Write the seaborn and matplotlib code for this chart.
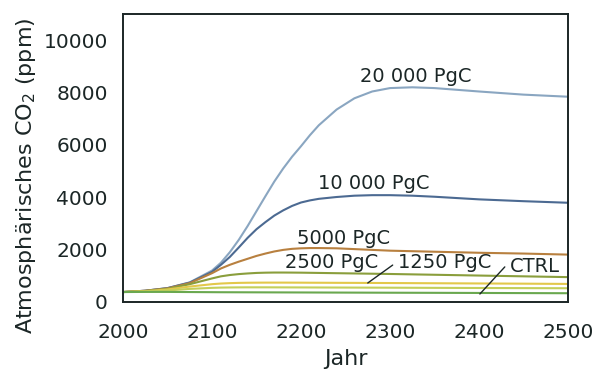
import matplotlib
matplotlib.use("Agg")
import matplotlib.pyplot as plt
import seaborn as sns
import pandas as pd

years = [2000, 2025, 2050, 2075, 2100, 2110, 2120, 2130, 2140, 2150, 2160, 2170,
         2180, 2190, 2200, 2210, 2220, 2240, 2260, 2280, 2300, 2325, 2350, 2400,
         2450, 2500]
co2_20000 = [380, 430, 530, 750, 1200, 1500, 1900, 2370, 2900, 3470, 4040, 4600,
             5100, 5550, 5950, 6370, 6750, 7350, 7780, 8040, 8170, 8200, 8170, 8040,
             7920, 7840]
co2_10000 = [380, 430, 530, 740, 1150, 1420, 1720, 2080, 2450, 2780, 3050, 3300,
             3500, 3670, 3800, 3880, 3940, 4010, 4060, 4080, 4080, 4060, 4020, 3920,
             3850, 3790]
co2_5000 = [380, 430, 520, 720, 1100, 1280, 1420, 1540, 1650, 1760, 1850, 1930,
            1990, 2030, 2050, 2060, 2060, 2050, 2020, 1990, 1960, 1940, 1920, 1880,
            1850, 1810]
co2_2500 = [380, 420, 500, 680, 900, 980, 1030, 1065, 1090, 1110, 1120, 1125,
            1125, 1123, 1120, 1115, 1110, 1100, 1090, 1080, 1070, 1055, 1040, 1010,
            980, 950]
co2_1250 = [380, 410, 480, 590, 680, 705, 720, 730, 735, 738, 740, 740,
            740, 739, 738, 736, 735, 732, 730, 727, 724, 720, 716, 708,
            700, 690]
co2_625 = [380, 400, 440, 500, 540, 550, 555, 558, 560, 560, 560, 559,
           558, 557, 556, 555, 554, 552, 550, 548, 546, 543, 540, 535,
           530, 525]
co2_ctrl = [380, 385, 385, 380, 375, 373, 372, 371, 370, 369, 368, 367,
            366, 365, 364, 363, 362, 360, 358, 356, 354, 352, 350, 345,
            340, 335]

series_names = ["20000", "10000", "5000", "2500", "1250", "625", "CTRL"]
series_values = [co2_20000, co2_10000, co2_5000, co2_2500, co2_1250, co2_625, co2_ctrl]
series_colors = ["#8aa6c1", "#4c6a92", "#b8803f", "#8a9e3c", "#e3c84a", "#c4cf5a", "#6aa84f"]

x_ticks = [2000, 2100, 2200, 2300, 2400, 2500]
y_ticks = [0, 2000, 4000, 6000, 8000, 10000]

labels = ["20 000 PgC", "10 000 PgC", "5000 PgC", "2500 PgC", "1250 PgC", "CTRL"]
label_pos = [(2266, 8630), (2219, 4540), (2196, 2440), (2182, 1490), (2309, 1490), (2435, 1370)]

rows = []
for name, vals in zip(series_names, series_values):
    for y, v in zip(years, vals):
        rows.append({"Jahr": y, "CO2": v, "Szenario": name})
df = pd.DataFrame(rows)

sns.set_style("white")
plt.rcParams["font.family"] = ["DejaVu Sans"]
txt = "#1b2626"

fig = plt.figure(figsize=(5.96, 3.70), dpi=100)
ax = fig.add_axes([0.2064, 0.1838, 0.7466, 0.7784])
sns.lineplot(data=df, x="Jahr", y="CO2", hue="Szenario", hue_order=series_names,
             palette=dict(zip(series_names, series_colors)), legend=False,
             linewidth=1.5, ax=ax)

ax.set_xlim(2000, 2500)
ax.set_ylim(0, 11000)
ax.set_xticks(x_ticks)
ax.set_yticks(y_ticks)
ax.tick_params(axis="both", direction="out", length=5, width=1.2, colors=txt,
               labelsize=14.5)
ax.tick_params(axis="x", pad=10)
ax.tick_params(axis="y", pad=6)
for s in ax.spines.values():
    s.set_visible(True)
    s.set_color(txt)
    s.set_linewidth(1.4)

ax.set_xlabel("Jahr", fontsize=16, color=txt, labelpad=5)
ax.set_ylabel("Atmosphärisches CO$_2$ (ppm)", fontsize=16, color=txt)
ax.yaxis.set_label_coords(-0.19, 0.4375)

for t, (lx, ly) in zip(labels, label_pos):
    ax.text(lx, ly, t, fontsize=14, color=txt, ha="left", va="center")

ax.plot([2303, 2275], [1410, 725], color=txt, linewidth=1.0)
ax.plot([2429, 2401], [1340, 305], color=txt, linewidth=1.0)

fig.savefig("out.png", dpi=100)
